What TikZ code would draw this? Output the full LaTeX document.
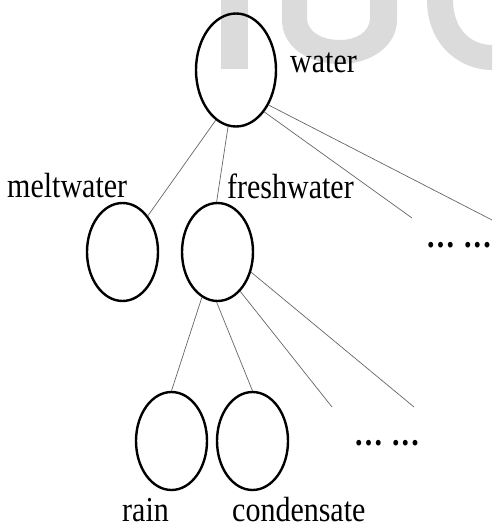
\documentclass[tikz,border=0pt]{standalone}
\usepackage{graphicx}
\usepackage{fontspec}
\setmainfont{Liberation Serif}
\usetikzlibrary{shapes.geometric}
\newcommand\lbltext[1]{\scalebox{0.857}[1]{#1}}
\begin{document}
\begin{tikzpicture}[x=1pt,y=-1pt,
  wm/.style={fill=black!14},
  el/.style={draw=black, line width=2.4pt, ellipse, inner sep=0pt},
  big/.style={el, minimum width=80pt, minimum height=113pt},
  small/.style={el, minimum width=71pt, minimum height=98pt},
  lbl/.style={anchor=base west, inner sep=0pt, font=\fontsize{35}{40}\selectfont},
  link/.style={draw=black!60, line width=0.7pt}]
\useasboundingbox (0,0) rectangle (492,529);
\fill[white] (0,0) rectangle (492,529);
% watermark
\fill[wm] (221,0) rectangle (248,69);
\fill[wm] (282,0) -- (282,20) .. controls (282,48) and (310,64) .. (340,64) .. controls (372,64) and (397,45) .. (397,20) -- (397,0) -- (370,0) -- (370,18) .. controls (370,32) and (356,40) .. (340,40) .. controls (322,40) and (307,32) .. (307,18) -- (307,0) -- cycle;
\fill[wm] (427,0) .. controls (427,45) and (460,70) .. (492,70) -- (492,45) .. controls (470,45) and (453,28) .. (453,0) -- cycle;
% nodes
\node[big] (water) at (236,70) {};
\node[small] (melt) at (122.5,252) {};
\node[small] (fresh) at (217.5,252) {};
\node[small] (rain) at (171.5,441) {};
\node[small] (cond) at (252.5,441) {};
% labels
\node[lbl] (twater) at (290,73) {\lbltext{water}};
\node[lbl] (tmelt) at (7,197) {\lbltext{meltwater}};
\node[lbl] (tfresh) at (227,198) {\lbltext{freshwater}};
\node[lbl] (train) at (122,521) {\lbltext{rain}};
\node[lbl] (tcond) at (232,521) {\lbltext{condensate}};
\node[lbl] (dots1) at (427,247.5) {\lbltext{\bfseries .\kern2.6pt.\kern2.6pt.\kern11.5pt.\kern2.6pt.\kern2.6pt.}};
\node[lbl] (dots2) at (355,445.5) {\lbltext{\bfseries .\kern2.6pt.\kern2.6pt.\kern11.5pt.\kern2.6pt.\kern2.6pt.}};
% free ends
\coordinate (e1) at (412,218);
\coordinate (e2) at (492,220);
\coordinate (e3) at (332,407);
\coordinate (e4) at (414,407);
% connectors
\draw[link] (water.248) -- (melt.55);
\draw[link] (water.262) -- (fresh.91);
\draw[link] (water.304) -- (e1);
\draw[link] (water.313) -- (e2);
\draw[link] (fresh.251) -- (rain.90);
\draw[link] (fresh.269) -- (cond.90);
\draw[link] (fresh.300) -- (e3);
\draw[link] (fresh.329) -- (e4);
\end{tikzpicture}
\end{document}
